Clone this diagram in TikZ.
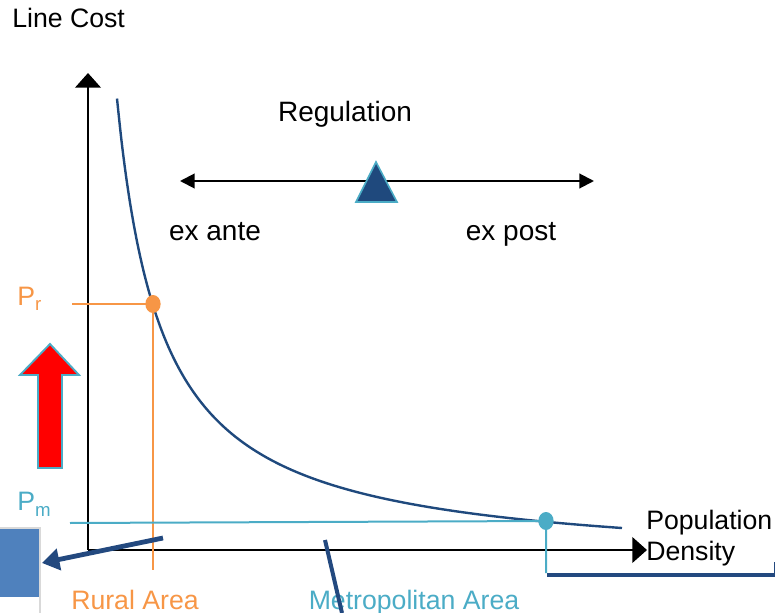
\documentclass[tikz,border=0pt]{standalone}
\usepackage{fontspec}
\setmainfont{Liberation Sans}
\usetikzlibrary{arrows.meta,shapes.geometric}
\definecolor{dblue}{HTML}{1F497D}
\definecolor{ablue}{HTML}{23497F}
\definecolor{orng}{HTML}{F79646}
\definecolor{cyn}{HTML}{4BACC6}
\definecolor{boxblue}{HTML}{4F81BD}
\newcommand{\mysub}[1]{\raisebox{-4.5pt}{\fontsize{14}{16}\selectfont #1}}
\begin{document}
\begin{tikzpicture}[x=0.75pt,y=-0.75pt,
  lbl/.style={font=\fontsize{20}{24}\selectfont, inner sep=0pt},
  lblb/.style={font=\fontsize{21}{25}\selectfont, inner sep=0pt},
  axis/.style={line width=2.2pt, black},
  curve/.style={line width=1.8pt, dblue},
  dot/.style={ellipse, minimum width=11.5pt, minimum height=13.5pt, inner sep=0pt, fill=#1},
]
\useasboundingbox (0,0) rectangle (775,613);

% texts
\node[lbl, anchor=base west] (ylab) at (12,28) {Line Cost};
\node[lblb, anchor=base] (reg) at (345,122) {Regulation};
\node[lblb, anchor=base] (exa) at (215,240) {ex ante};
\node[lblb, anchor=base] (exp) at (511,240) {ex post};
\node[lbl, anchor=base west] (pop) at (646,529) {Population};
\node[lbl, anchor=base west] (den) at (646,560) {Density};
\node[lbl, anchor=base, text=orng] (rural) at (135,609) {Rural Area};
\node[lbl, anchor=base, text=cyn] (metro) at (414,609) {Metropolitan Area};
\node[lbl, anchor=base west, text=orng] (pr) at (17,305) {P\mysub{r}};
\node[lbl, anchor=base west, text=cyn] (pm) at (17,510) {P\mysub{m}};

% box at left
\fill[boxblue] (0,528) rectangle (40,597);
\draw[gray!30, line width=0.8pt] (0,528) -- (40,528) -- (40,613);

% axes
\coordinate (O) at (88,550);
\coordinate (ytop) at (88,73);
\coordinate (xend) at (647,550);
\draw[axis, -{Triangle[length=11pt, width=19pt]}] (O) -- (ytop);
\draw[axis, -{Triangle[length=11pt, width=19pt]}] (O) -- (xend);

% curve
\draw[curve] plot[domain=117:622, samples=120, smooth] (\x, {566.7-213/((\x-71.5)/100)});

% orange
\coordinate (prl) at (72,304);
\coordinate (prd) at (153,304);
\coordinate (prb) at (153,570);
\draw[orng, line width=1.5pt] (prl) -- (prd) -- (prb);
\node[dot=orng] (pdot) at (prd) {};

% cyan
\coordinate (pml) at (70,523);
\coordinate (pmd) at (546,521);
\coordinate (pmb) at (546,573);
\draw[cyn, line width=1.5pt] (pml) -- (pmd) -- (pmb);
\node[dot=cyn] (mdot) at (pmd) {};

% dark blue lines
\coordinate (bl1) at (547,575);
\coordinate (bl2) at (775,575);
\draw[ablue, line width=3pt] (bl1) -- (bl2);
\draw[ablue, line width=1pt] (774.5,562) -- (774.5,576);
\coordinate (a1) at (163,538);
\coordinate (a2) at (42,563);
\draw[ablue, line width=3.6pt, -{Triangle[length=13pt, width=16pt]}] (a1) -- (a2);
\coordinate (s1) at (325,540);
\coordinate (s2) at (342,613);
\draw[ablue, line width=3pt] (s1) -- (s2);

% regulation arrow
\coordinate (rl) at (180,181);
\coordinate (rr) at (594,181);
\draw[black, line width=1.5pt, {Triangle[length=11pt, width=11pt]}-{Triangle[length=11pt, width=11pt]}] (rl) -- (rr);
\draw[cyn, fill=dblue, line width=1.2pt] (376,162) -- (397,202) -- (356,202) -- cycle;

% red arrow
\draw[cyn, fill=red, line width=1.4pt] (50,344) -- (79,375) -- (62,375) -- (62,468) -- (38,468) -- (38,375) -- (20,375) -- cycle;
\end{tikzpicture}
\end{document}
